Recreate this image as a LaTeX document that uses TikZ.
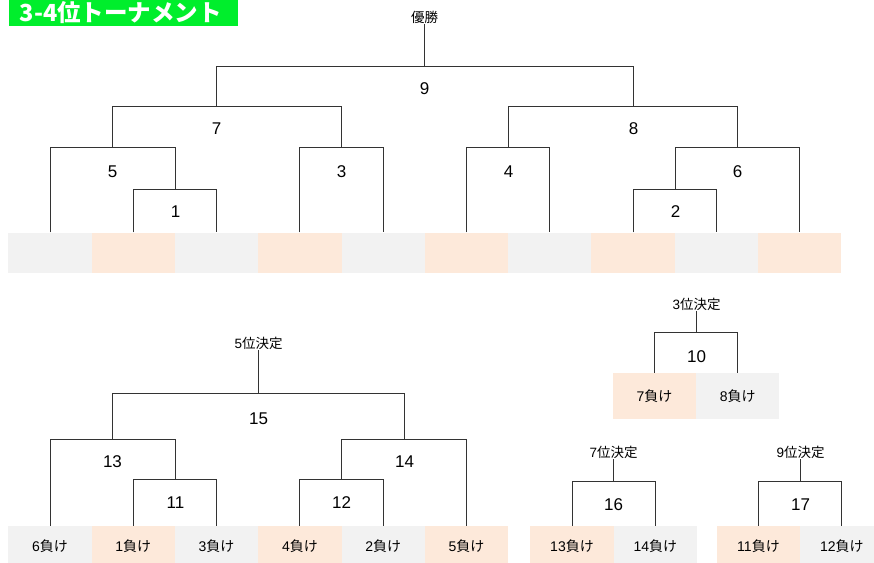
\documentclass[tikz,border=0pt]{standalone}
\usepackage{fontspec}
\setmainfont{Noto Sans CJK JP}
\newfontfamily\latinfont{Liberation Sans}
\usepackage{tikz}
\usetikzlibrary{positioning}

\definecolor{lossgray}{HTML}{F2F2F2}
\definecolor{losspeach}{HTML}{FDE9DA}
\definecolor{titlegreen}{HTML}{00EE2C}
\definecolor{linegray}{HTML}{333333}

\newcommand{\lost}[1]{{\latinfont #1}負け}

\tikzset{
  cellbox/.style={minimum width=83.3pt, minimum height=40pt, inner sep=0pt,
    font=\fontsize{14}{14}\selectfont},
  graycell/.style={cellbox, fill=lossgray},
  peachcell/.style={cellbox, fill=losspeach},
  bracket/.style={line width=1pt, draw=linegray},
  matchno/.style={inner sep=0pt, font=\fontsize{17}{17}\selectfont\latinfont},
  rankname/.style={inner sep=1pt, font=\fontsize{13.5}{13.5}\selectfont}
}

\begin{document}
\begin{tikzpicture}[x=1pt, y=-1pt]
  \useasboundingbox (0,0) rectangle (874,562);

  % title
  \node[fill=titlegreen, minimum width=229pt, minimum height=26pt,
        inner sep=0pt, anchor=north west] (title) at (8.5,0) {};
  \node[text=white, inner sep=0pt, anchor=west,
        font=\fontsize{23.5}{23.5}\selectfont\bfseries]
        (titletext) at ([xshift=11pt,yshift=1pt]title.west) {3-4位トーナメント};

  % main bracket
  \foreach \i/\sty in {1/graycell,2/peachcell,3/graycell,4/peachcell,5/graycell,
                      6/peachcell,7/graycell,8/peachcell,9/graycell,10/peachcell}
    \node[\sty] (t\i) at ({8.35+83.3*(\i-0.5)},252.5) {};

  \coordinate (m1) at (175.5,189.5);
  \coordinate (m2) at (675.5,189.5);
  \coordinate (m5) at (112.5,147.5);
  \coordinate (m3) at (341.5,147.5);
  \coordinate (m4) at (508.5,147.5);
  \coordinate (m6) at (737.5,147.5);
  \coordinate (m7) at (216.5,106.5);
  \coordinate (m8) at (633.5,106.5);
  \coordinate (m9) at (424.5,66.5);

  \draw[bracket] (t2.north) |- (m1) -| (t3.north);
  \draw[bracket] (t1.north) |- (m5) -| (m1);
  \draw[bracket] (t4.north) |- (m3) -| (t5.north);
  \draw[bracket] (t6.north) |- (m4) -| (t7.north);
  \draw[bracket] (t8.north) |- (m2) -| (t9.north);
  \draw[bracket] (m2) |- (m6) -| (t10.north);
  \draw[bracket] (m5) |- (m7) -| (m3);
  \draw[bracket] (m4) |- (m8) -| (m6);
  \draw[bracket] (m7) |- (m9) -| (m8);

  \node[matchno] (n1) at ([yshift=-22pt]m1) {1};
  \node[matchno] (n2) at ([yshift=-22pt]m2) {2};
  \node[matchno] (n3) at ([yshift=-24pt]m3) {3};
  \node[matchno] (n4) at ([yshift=-24pt]m4) {4};
  \node[matchno] (n5) at ([yshift=-24pt]m5) {5};
  \node[matchno] (n6) at ([yshift=-24pt]m6) {6};
  \node[matchno] (n7) at ([yshift=-22pt]m7) {7};
  \node[matchno] (n8) at ([yshift=-22pt]m8) {8};
  \node[matchno] (n9) at ([yshift=-22pt]m9) {9};

  \node[rankname] (win) at (424.5,17) {優勝};
  \draw[bracket] (m9) -- (win.south);

  % 5th place bracket
  \foreach \i/\sty/\txt in {1/graycell/6,2/peachcell/1,3/graycell/3,
                           4/peachcell/4,5/graycell/2,6/peachcell/5}
    \node[\sty] (b\i) at ({8.35+83.3*(\i-0.5)},546) {\lost{\txt}};

  \coordinate (m11) at (175.5,479.5);
  \coordinate (m12) at (341.5,479.5);
  \coordinate (m13) at (112.5,439.5);
  \coordinate (m14) at (404.5,439.5);
  \coordinate (m15) at (258.5,393.5);

  \draw[bracket] (b2.north) |- (m11) -| (b3.north);
  \draw[bracket] (b4.north) |- (m12) -| (b5.north);
  \draw[bracket] (b1.north) |- (m13) -| (m11);
  \draw[bracket] (m12) |- (m14) -| (b6.north);
  \draw[bracket] (m13) |- (m15) -| (m14);

  \node[matchno] (n11) at ([yshift=-23pt]m11) {11};
  \node[matchno] (n12) at ([yshift=-23pt]m12) {12};
  \node[matchno] (n13) at ([yshift=-22pt]m13) {13};
  \node[matchno] (n14) at ([yshift=-22pt]m14) {14};
  \node[matchno] (n15) at ([yshift=-25pt]m15) {15};

  \node[rankname] (fifth) at (258.5,343) {{\latinfont 5}位決定};
  \draw[bracket] (m15) -- (fifth.south);

  % 3rd place
  \node[peachcell, minimum height=46pt] (r1) at (654.5,396) {\lost{7}};
  \node[graycell, minimum height=46pt] (r2) at (737.8,396) {\lost{8}};
  \coordinate (m10) at (696.5,332.5);
  \draw[bracket] (r1.north) |- (m10) -| (r2.north);
  \node[matchno] (n10) at ([yshift=-24pt]m10) {10};
  \node[rankname] (third) at (696.5,304) {{\latinfont 3}位決定};
  \draw[bracket] (m10) -- (third.south);

  % 7th place
  \node[peachcell] (s1) at (572,546) {\lost{13}};
  \node[graycell] (s2) at (655.3,546) {\lost{14}};
  \coordinate (m16) at (613.5,481.5);
  \draw[bracket] (s1.north) |- (m16) -| (s2.north);
  \node[matchno] (n16) at ([yshift=-23pt]m16) {16};
  \node[rankname] (seventh) at (613.5,452) {{\latinfont 7}位決定};
  \draw[bracket] (m16) -- (seventh.south);

  % 9th place
  \node[peachcell] (u1) at (758.5,546) {\lost{11}};
  \node[graycell] (u2) at (841.8,546) {\lost{12}};
  \coordinate (m17) at (800.5,481.5);
  \draw[bracket] (u1.north) |- (m17) -| (u2.north);
  \node[matchno] (n17) at ([yshift=-23pt]m17) {17};
  \node[rankname] (ninth) at (800.5,452) {{\latinfont 9}位決定};
  \draw[bracket] (m17) -- (ninth.south);
\end{tikzpicture}
\end{document}
